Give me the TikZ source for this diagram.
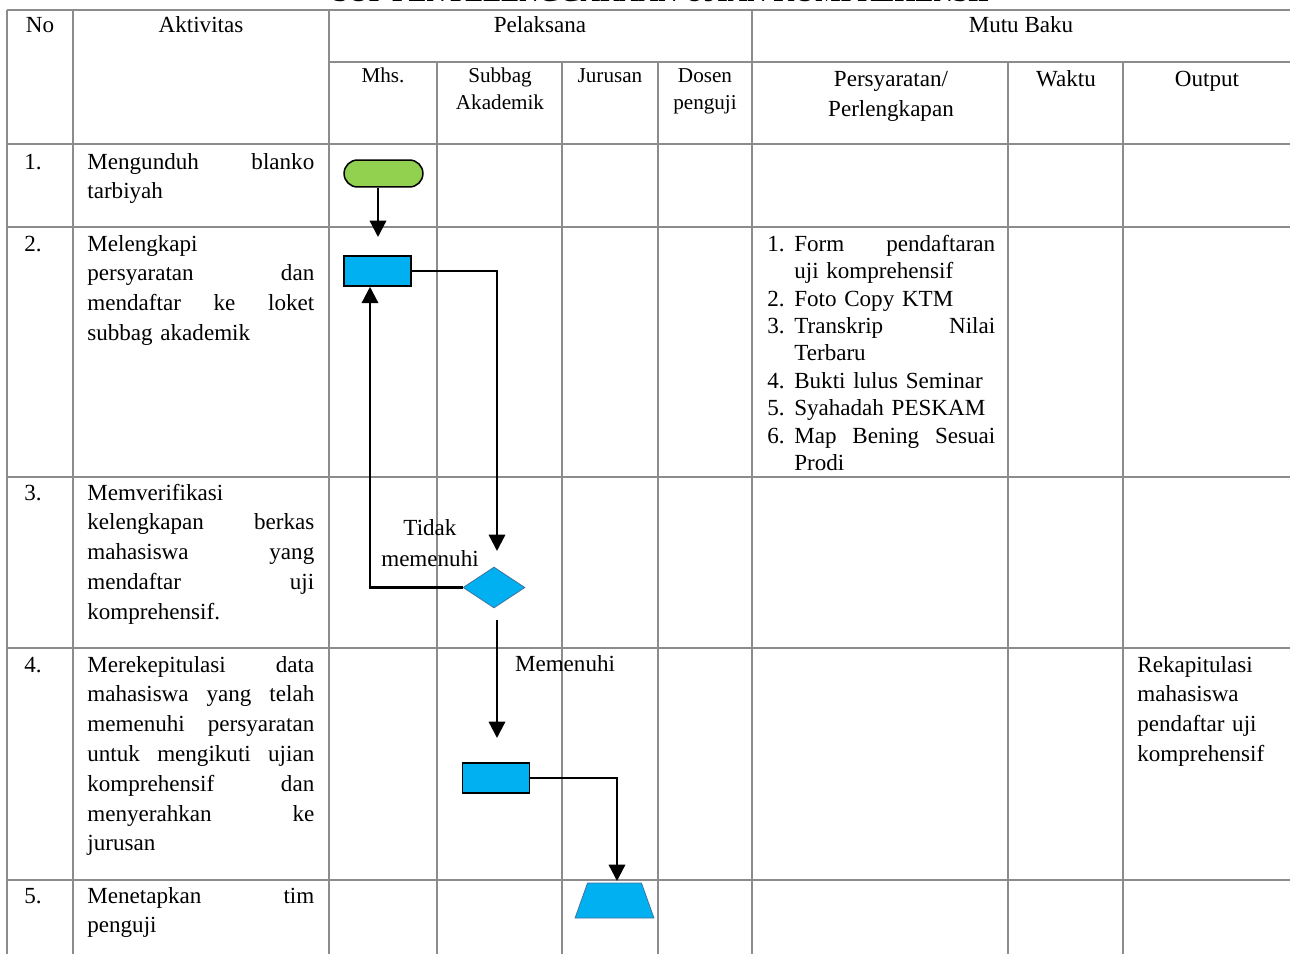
\documentclass[tikz,border=0pt]{standalone}
\usepackage{fontspec}
\setmainfont{Liberation Serif}
\usetikzlibrary{arrows.meta,shapes.geometric}
\definecolor{sopblue}{HTML}{00B0F0}
\definecolor{sopgreen}{HTML}{92D050}
\definecolor{sopedge}{HTML}{41719C}
\newcommand{\nr}[1]{\makebox[14pt][l]{#1}}
\tikzset{
  grid line/.style={black!45,line width=0.75pt},
  cell text/.style={inner sep=0pt,font=\fontsize{12}{15.5}\selectfont},
  head text/.style={cell text,anchor=base},
  small head/.style={inner sep=0pt,align=center,text width=60pt,anchor=base,font=\fontsize{11}{14}\selectfont},
  act text/.style={cell text,text width=118pt,align=left,anchor=base west},
  start box/.style={draw,line width=0.8pt,fill=sopgreen,rounded corners=7pt,minimum width=41pt,minimum height=14pt,inner sep=0pt},
  proc box/.style={draw,line width=0.8pt,fill=sopblue,minimum width=35pt,minimum height=15.6pt,inner sep=0pt},
  cond box/.style={diamond,draw=sopedge,line width=0.4pt,fill=sopblue,minimum width=32.2pt,minimum height=21.3pt,inner sep=0pt},
  doc box/.style={trapezium,trapezium stretches=true,trapezium left angle=77,trapezium right angle=77,draw=sopedge,line width=0.4pt,fill=sopblue,minimum width=41pt,minimum height=18.2pt,inner sep=1pt},
  flow arrow/.style={-{Triangle[length=8.5pt,width=8.5pt]},line width=1.2pt},
}

\begin{document}
\begin{tikzpicture}[x=0.52pt,y=-0.52pt]
  \useasboundingbox (0,0) rectangle (1290,954);
  % title, mostly cut off at the top
  \node[inner sep=0pt,anchor=base,font=\fontsize{14}{16}\selectfont\bfseries] (title) at (664,2) {SOP PENYELENGGARAAN UJIAN KOMPREHENSIF};
  % table grid
  \foreach \y in {10,227,477,648,880} \draw[grid line] (7,\y) -- (1290,\y);
  \draw[grid line,line width=1.1pt] (7,144) -- (1290,144);
  \draw[grid line] (329,62) -- (1290,62);
  \foreach \x in {7,73,329,752} \draw[grid line] (\x,10) -- (\x,954);
  \foreach \x in {437,562,658,1008,1123} \draw[grid line] (\x,62) -- (\x,954);
  % header
  \node[head text] (hno) at (40,33) {No};
  \node[head text] (hakt) at (201,33) {Aktivitas};
  \node[head text] (hpel) at (540,33) {Pelaksana};
  \node[head text] (hmutu) at (1021,33) {Mutu Baku};
  \node[small head] (hmhs) at (383,83) {Mhs.};
  \node[small head] (hsub) at (500,83) {Subbag\\Akademik};
  \node[small head] (hjur) at (610,83) {Jurusan};
  \node[small head] (hdos) at (705,83) {Dosen\\penguji};
  \node[cell text,align=center,text width=120pt,anchor=base] (hsyarat) at (891,87) {Persyaratan/\\Perlengkapan};
  \node[head text] (hwaktu) at (1066,87) {Waktu};
  \node[head text] (hout) at (1207,87) {Output};
  % row numbers
  \node[cell text,anchor=base west] (no1) at (24,169) {1.};
  \node[cell text,anchor=base west] (no2) at (24,251) {2.};
  \node[cell text,anchor=base west] (no3) at (24,500) {3.};
  \node[cell text,anchor=base west] (no4) at (24,672) {4.};
  \node[cell text,anchor=base west] (no5) at (24,903) {5.};
  % activities
  \node[act text] (akt1) at (87,169) {Mengunduh\hfill blanko\\tarbiyah};
  \node[act text] (akt2) at (87,251) {Melengkapi\\persyaratan\hfill dan\\mendaftar\hfill ke\hfill loket\\subbag akademik};
  \node[act text] (akt3) at (87,500) {Memverifikasi\\kelengkapan\hfill berkas\\mahasiswa\hfill yang\\mendaftar\hfill uji\\komprehensif.};
  \node[act text] (akt4) at (87,672) {Merekepitulasi\hfill data\\mahasiswa\hfill yang\hfill telah\\memenuhi\hfill persyaratan\\untuk\hfill mengikuti\hfill ujian\\komprehensif\hfill dan\\menyerahkan\hfill ke\\jurusan};
  \node[act text] (akt5) at (87,903) {Menetapkan\hfill tim\\penguji};
  % requirements
  \node[cell text,font=\fontsize{12}{14.3}\selectfont,text width=118.5pt,align=left,anchor=base west] (syarat) at (767,251) {%
    \nr{1.}Form\hfill pendaftaran\\
    \nr{}uji komprehensif\\
    \nr{2.}Foto Copy KTM\\
    \nr{3.}Transkrip\hfill Nilai\\
    \nr{}Terbaru\\
    \nr{4.}Bukti lulus Seminar\\
    \nr{5.}Syahadah PESKAM\\
    \nr{6.}Map\hfill Bening\hfill Sesuai\\
    \nr{}Prodi};
  % output
  \node[cell text,text width=80pt,align=left,anchor=base west] (out4) at (1137,672) {Rekapitulasi\\mahasiswa\\pendaftar uji\\komprehensif};
  % flow shapes
  \node[start box] (start) at (383.5,173.5) {};
  \node[proc box] (proc1) at (377.5,271) {};
  \node[cond box] (cek) at (494,587.5) {};
  \node[proc box] (proc2) at (496,778) {};
  \node[doc box] (tim) at (614.5,900.5) {};
  \coordinate (t1) at (378,237);
  \coordinate (t2) at (497,551);
  \coordinate (m0) at (497,620);
  \coordinate (t3) at (497,738);
  \coordinate (t4) at (617,881);
  \draw[flow arrow] (start.south -| t1) -- (t1);
  \draw[flow arrow] (proc1.east) -| (t2);
  \draw[flow arrow] (cek.west) -| ([xshift=-3.9pt]proc1.south);
  \draw[flow arrow] (m0) -- (t3);
  \draw[flow arrow] (proc2.east) -| (t4);
  % branch labels
  \node[cell text,font=\fontsize{12}{16.6}\selectfont,align=center,text width=60pt,anchor=base] (lbtidak) at (430,535) {Tidak\\memenuhi};
  \node[cell text,anchor=base] (lbya) at (565,671) {Memenuhi};
\end{tikzpicture}
\end{document}
